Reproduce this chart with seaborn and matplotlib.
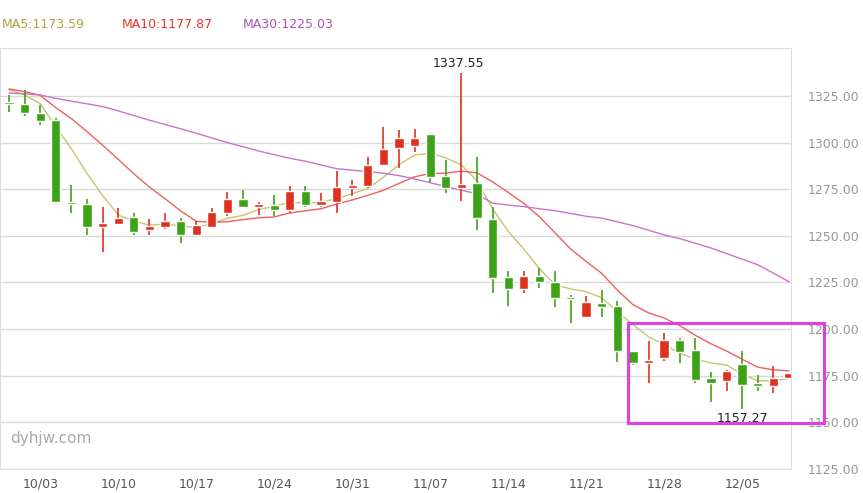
import matplotlib
matplotlib.use("Agg")
import matplotlib.pyplot as plt
import seaborn as sns
import numpy as np
import pandas as pd
from matplotlib.patches import Rectangle

dates = pd.bdate_range("2017-09-29", "2017-12-08")
opens = [1321.8,1320.7,1315.7,1312.1,1268.0,1267.0,1254.5,1256.6,1260.2,1252.9,
         1255.0,1258.0,1250.7,1255.0,1262.5,1269.8,1265.7,1266.6,1264.0,1274.1,
         1266.6,1268.4,1275.9,1276.8,1288.0,1297.3,1298.4,1304.5,1282.1,1275.9,
         1278.2,1258.9,1227.7,1221.3,1228.4,1225.0,1216.5,1206.7,1213.8,1212.4,
         1188.2,1181.6,1184.6,1194.1,1188.8,1173.9,1172.3,1181.3,1170.9,1169.5,1173.9]
closes = [1320.5,1316.1,1311.8,1267.9,1267.0,1254.6,1256.8,1259.5,1252.3,1255.4,
          1258.0,1250.7,1255.9,1262.7,1269.8,1265.7,1266.8,1264.0,1274.1,1266.6,
          1268.75,1276.2,1277.3,1288.0,1296.6,1302.5,1302.3,1281.8,1275.9,1277.7,
          1259.5,1227.5,1221.3,1228.7,1225.0,1216.5,1216.1,1214.3,1212.0,1188.0,
          1181.6,1183.4,1194.1,1187.9,1172.7,1171.2,1177.5,1170.0,1169.6,1173.6,1176.3]
highs = [1325.5,1328.2,1320.2,1313.0,1277.3,1269.6,1265.4,1264.8,1262.1,1258.9,
         1262.1,1259.6,1257.7,1265.0,1273.4,1274.6,1268.0,1272.0,1276.8,1276.8,
         1272.9,1284.5,1280.0,1292.1,1308.2,1306.8,1307.3,1304.5,1290.7,1337.55,
         1292.1,1265.7,1231.2,1231.2,1233.0,1231.2,1218.2,1217.7,1220.9,1215.2,
         1188.2,1193.6,1198.0,1195.0,1195.0,1177.1,1178.0,1188.4,1175.4,1180.2,1176.7]
lows = [1316.6,1314.0,1309.5,1267.5,1262.5,1250.2,1241.6,1256.6,1250.5,1250.2,
        1253.6,1246.4,1250.7,1255.0,1260.4,1265.4,1261.2,1260.7,1262.5,1265.2,
        1265.7,1262.5,1271.6,1275.5,1287.5,1286.1,1295.2,1278.6,1273.2,1268.9,
        1252.9,1219.5,1212.4,1219.1,1221.8,1211.7,1203.5,1206.1,1206.7,1182.1,
        1181.0,1171.2,1183.0,1181.6,1170.9,1161.1,1166.8,1157.27,1166.8,1165.9,1173.9]
prior_closes = [1330,1332,1334,1326,1324,1330,1335,1330,1326]
ma30 = [1326.5,1326.2,1325.5,1323.7,1322.2,1320.8,1319.3,1317,1314.5,1312,
        1309.7,1307.4,1305,1302.5,1300,1297.8,1295.5,1293.5,1291.6,1290,
        1288,1286,1285.2,1284.4,1283.6,1282.3,1280.5,1278.5,1276.4,1274.5,
        1272.5,1267.5,1266.5,1265.7,1264.5,1263.5,1262,1260.5,1259.5,1257.5,
        1255.5,1253,1250.5,1248.5,1246,1243.5,1240.5,1237.5,1234.5,1230,1225.4]
yticks = [1125, 1150, 1175, 1200, 1225, 1250, 1275, 1300, 1325]
legend_values = {"MA5": 1173.59, "MA10": 1177.87, "MA30": 1225.03}

allc = pd.Series(prior_closes + closes)
ma5 = allc.rolling(5).mean().iloc[len(prior_closes):].values
ma10 = allc.rolling(10).mean().iloc[len(prior_closes):].values

sns.set_style("white")
plt.rcParams['font.family'] = ['DejaVu Sans']
fig = plt.figure(figsize=(8.63, 4.93), dpi=100)
ax = fig.add_axes([0, 24/493, 791/863, 421/493])

n = len(closes)
idx = np.arange(n)
RED, GREEN = "#e0301e", "#3ca317"
for i in idx:
    up = closes[i] >= opens[i]
    c = RED if up else GREEN
    ax.vlines(i, lows[i], highs[i], color=c, lw=1.2, zorder=3)
    b = min(opens[i], closes[i]); h = max(abs(closes[i]-opens[i]), 0.9)
    ax.bar(i, h, bottom=b, width=0.6, color=c, zorder=4)

df = pd.DataFrame({"x": idx, "ma5": ma5, "ma10": ma10, "ma30": ma30})
sns.lineplot(data=df, x="x", y="ma5", ax=ax, color="#c9c46e", lw=1, zorder=2)
sns.lineplot(data=df, x="x", y="ma10", ax=ax, color="#ee6060", lw=1, zorder=2)
sns.lineplot(data=df, x="x", y="ma30", ax=ax, color="#c875c8", lw=1, zorder=2)

ax.set_xlim(-0.577, 50.13)
ax.set_ylim(1125, 1350.7)
ax.set_xlabel(""); ax.set_ylabel("")
for y in yticks:
    ax.axhline(y, color="#d9d9d9", lw=1, zorder=0)
ax.set_yticks(yticks)
ax.yaxis.tick_right()
ax.set_yticklabels([f"{v:.2f}" for v in yticks], color="#999999", fontsize=9)
ax.tick_params(axis="y", length=0, pad=12)
xt = [i for i in idx if dates[i].weekday() == 1]
ax.set_xticks(xt)
ax.set_xticklabels([dates[i].strftime("%m/%d") for i in xt], color="#555555", fontsize=9)
ax.tick_params(axis="x", length=4, color="#cccccc", pad=2)
for s in ax.spines.values():
    s.set_color("#dddddd")

imax = int(np.argmax(highs)); imin = int(np.argmin(lows))
ax.text(imax - 0.2, highs[imax] + 1.5, f"{highs[imax]:.2f}", ha="center", va="bottom", fontsize=9, color="#222222")
ax.text(imin, lows[imin] - 1.5, f"{lows[imin]:.2f}", ha="center", va="top", fontsize=9, color="#222222")

fig.text(10/863, 1 - 438/493, "dyhjw.com", fontsize=11, color="#aaaaaa", va="center")
fig.text(2/863, 1 - 24/493, f"MA5:{legend_values['MA5']:.2f}", color="#a9a93a", fontsize=9, va="center")
fig.text(122/863, 1 - 24/493, f"MA10:{legend_values['MA10']:.2f}", color="#e8382b", fontsize=9, va="center")
fig.text(243/863, 1 - 24/493, f"MA30:{legend_values['MA30']:.2f}", color="#a855b0", fontsize=9, va="center")
fig.patches.append(Rectangle((628/863, 1 - 423/493), 196/863, 100/493, transform=fig.transFigure,
                             fill=False, edgecolor="#e040e0", lw=2.2, zorder=10))
fig.savefig("out.png", dpi=100)
